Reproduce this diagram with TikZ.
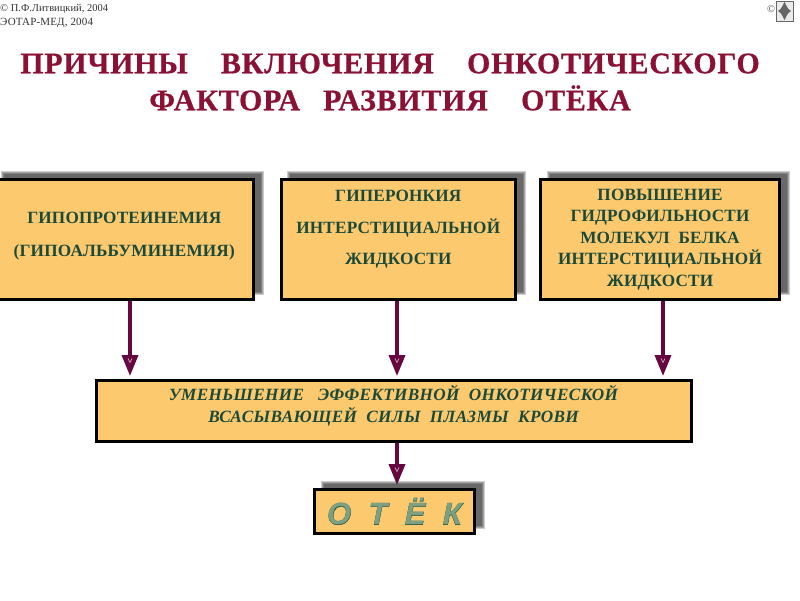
\documentclass[tikz,border=0pt]{standalone}
\usepackage{fontspec}
\setmainfont{Liberation Serif}
\newfontfamily\otekfont{Liberation Sans}
\usetikzlibrary{arrows.meta}
\definecolor{boxfill}{HTML}{FDC96F}
\definecolor{boxtext}{HTML}{1C4A38}
\definecolor{titlered}{HTML}{8A1034}
\definecolor{arrowcol}{HTML}{66073F}
\definecolor{otekdark}{HTML}{1C5A48}
\definecolor{oteklight}{HTML}{7FA080}
\newcommand{\softshadow}[4]{%
  \foreach \d in {2,1,0,-1}{
    \fill[black,opacity=0.2] (#1+8-\d,#2-7-\d) rectangle (#3+8+\d,#4-7+\d);
  }}
\tikzset{
  x=1pt,y=-1pt,
  card/.style={draw=black,line width=3pt,outer sep=0pt,fill=boxfill,text=boxtext,align=center,anchor=north west,inner sep=0pt,font=\bfseries\fontsize{17.2}{21.5}\selectfont\addfontfeature{LetterSpace=1}},
  flow/.style={draw=arrowcol,line width=3.6pt,shorten >=4.5pt,shorten <=1.5pt,-{Triangle[length=21pt,width=16pt,fill=arrowcol]}},
  vmark/.style={draw=white,line width=0.7pt,opacity=0.6},
  notetext/.style={font=\fontsize{10.5}{14}\selectfont,text=black!80,anchor=west,inner sep=0pt,align=left},
  headline/.style={font=\bfseries\fontsize{30}{37}\selectfont\addfontfeature{LetterSpace=2.4,FakeBold=0.6},text=titlered,align=center,inner sep=0pt}
}
\begin{document}
\begin{tikzpicture}
\useasboundingbox (0,0) rectangle (800,600);
\clip (0,0) rectangle (800,600);
\fill[white] (0,0) rectangle (800,600);
\node[notetext] (c1) at (0,9) {© П.Ф.Литвицкий, 2004};
\node[notetext,font=\fontsize{11}{14}\selectfont\addfontfeature{LetterSpace=1.5}] (c2) at (0,23) {ЭОТАР-МЕД, 2004};
\node[font=\fontsize{10.5}{12}\selectfont,text=black!70,inner sep=0pt] (c3) at (771,9) {©};
\draw[black!60,line width=0.6pt,fill=black!8] (776,1) rectangle (793,21);
\fill[black!60] (778,11) .. controls (782,9) and (783,4) .. (784.5,2) .. controls (786,4) and (787,9) .. (791,11) .. controls (787,13) and (786,18) .. (784.5,20) .. controls (783,18) and (782,13) .. (778,11);
\node[headline] (title) at (390,82) {ПРИЧИНЫ\hspace{25pt} ВКЛЮЧЕНИЯ\hspace{25pt} ОНКОТИЧЕСКОГО\\ФАКТОРА\hspace{15pt} РАЗВИТИЯ\hspace{25pt} ОТЁКА};
\softshadow{-5}{179.5}{253.5}{299.5}
\softshadow{281}{179.5}{515.5}{299.5}
\softshadow{540.5}{179.5}{779.5}{299.5}
\softshadow{314.5}{489.5}{474.5}{533.5}
\node[card,minimum width=258.5pt,minimum height=120pt] (b1) at (-5,179.5) {ГИПОПРОТЕИНЕМИЯ\\[11.5pt](ГИПОАЛЬБУМИНЕМИЯ)\\[-12pt]\ };
\node[card,minimum width=234.5pt,minimum height=120pt] (b2) at (281,179.5) {ГИПЕРОНКИЯ\\[10.5pt]ИНТЕРСТИЦИАЛЬНОЙ\\[9pt]ЖИДКОСТИ\\[3pt]\ };
\node[card,minimum width=239pt,minimum height=120pt] (b3) at (540.5,179.5) {ПОВЫШЕНИЕ\\ГИДРОФИЛЬНОСТИ\\МОЛЕКУЛ\ \ БЕЛКА\\ИНТЕРСТИЦИАЛЬНОЙ\\ЖИДКОСТИ};
\node[card,minimum width=595pt,minimum height=61pt,font=\bfseries\itshape\fontsize{17.2}{22}\selectfont\addfontfeature{LetterSpace=2}] (b4) at (96,380.5) {УМЕНЬШЕНИЕ\ \ \ ЭФФЕКТИВНОЙ\ \ ОНКОТИЧЕСКОЙ\\ВСАСЫВАЮЩЕЙ\ \ СИЛЫ\ \ ПЛАЗМЫ\ \ КРОВИ\\[-8pt]\ };
\node[card,minimum width=160pt,minimum height=44pt,font=\otekfont\bfseries\itshape\fontsize{31}{34}\selectfont\addfontfeature{LetterSpace=28}] (b5) at (314.5,489.5) {\rlap{\addfontfeature{FakeBold=1}\color{otekdark}О Т Ё К}\color{oteklight}О Т Ё К};
\coordinate (a1) at (130,0);
\coordinate (a2) at (397,0);
\coordinate (a3) at (663,0);
\draw[flow] (b1.south -| a1) -- (b4.north -| a1);
\draw[flow] (b2.south -| a2) -- (b4.north -| a2);
\draw[flow] (b3.south -| a3) -- (b4.north -| a3);
\draw[flow] (b4.south -| a2) -- (b5.north -| a2);
\foreach \x/\y in {130/360,397/360,663/360,397/469}{
  \draw[vmark] (\x-2,\y-1.5) -- (\x,\y+2.5) -- (\x+2,\y-1.5);
}
\end{tikzpicture}
\end{document}
